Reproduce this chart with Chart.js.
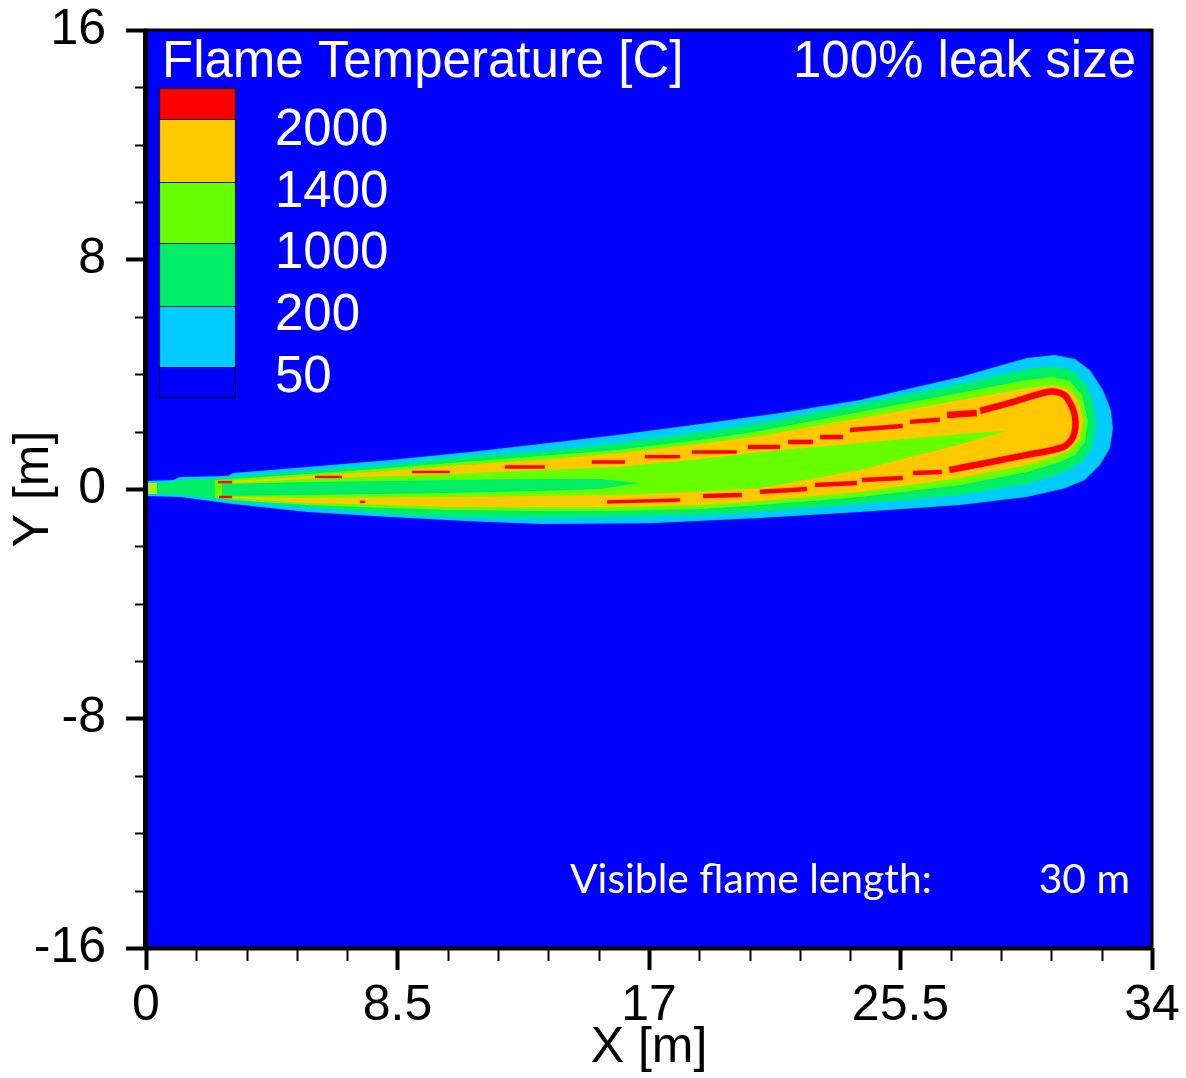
<!DOCTYPE html>
<html><head><meta charset="utf-8">
<script src="https://cdn.jsdelivr.net/npm/chart.js@4.4.1/dist/chart.umd.min.js"></script>
<style>html,body{margin:0;padding:0;background:#fff;}canvas{display:block;}</style>
</head><body>
<canvas id="c" width="1186" height="1078"></canvas>
<script>
// ---- axes / legend ----
const xTicks = [0, 8.5, 17, 25.5, 34];
const yTicks = [-16, -8, 0, 8, 16];
const xMinorStep = 1.7;
const yMinorStep = 2;
const legendTitle = 'Flame Temperature [C]';
const caseLabel = '100% leak size';
const levelLabels = ['2000', '1400', '1000', '200', '50'];
const levelColors = ['#FF0000', '#FFC800', '#66FF00', '#00EE66', '#00CCFF', '#0000FF'];
const noteLabel = 'Visible flame length:';
const noteValue = '30 m';

// ---- contour bands (x [m], y [m]) ----
const cyanX = [0,0.91,1.15,2.77,2.94,5.44,8.25,10.95,13.32,15.92,18.72,21.43,24.13,27.51,29.77,30.72,31.40,31.90,32.34,32.61,32.68,32.58,32.24,31.73,31.06,29.77,27.51,24.13,20.75,17.03,13.32,10.95,8.25,5.44,2.94,1.15,0];
const cyanY = [0.28,0.31,0.42,0.45,0.56,0.77,1.01,1.29,1.57,1.88,2.27,2.65,3.10,3.90,4.57,4.67,4.53,4.15,3.45,2.75,2.13,1.43,0.84,0.31,0.03,-0.28,-0.56,-0.80,-1.01,-1.19,-1.22,-1.12,-0.98,-0.80,-0.52,-0.28,-0.24];

const greenX = [0,0.91,1.15,2.94,5.44,8.25,10.27,13.32,15.92,18.72,20.75,24.13,27.51,29.77,30.65,31.29,31.80,32.04,32.11,31.97,31.63,31.06,29.77,27.51,24.13,20.75,18.72,15.92,13.32,10.27,8.25,5.44,2.94,1.15,0];
const greenY = [0.21,0.24,0.31,0.42,0.63,0.84,1.08,1.32,1.60,1.99,2.30,2.96,3.66,4.18,4.29,4.15,3.62,2.93,2.23,1.43,0.94,0.59,0.17,-0.21,-0.52,-0.80,-0.91,-0.98,-1.01,-0.98,-0.87,-0.63,-0.42,-0.21,-0.17];

const limeX = [2.33,2.94,5.44,8.25,10.27,13.32,15.92,18.72,20.75,24.13,27.51,29.77,30.65,31.23,31.63,31.83,31.73,31.40,30.89,29.77,27.51,24.13,20.75,18.72,15.92,13.32,10.27,8.25,5.44,2.94,2.33];
const limeY = [0.31,0.35,0.52,0.73,0.91,1.15,1.36,1.71,2.02,2.68,3.35,3.80,3.90,3.76,3.28,2.41,1.64,1.19,0.94,0.59,0.14,-0.28,-0.56,-0.70,-0.77,-0.77,-0.73,-0.66,-0.56,-0.38,-0.31];

const orangeX = [2.57,2.94,5.44,8.25,10.27,13.32,15.92,18.72,20.75,24.13,27.51,29.77,30.65,31.16,31.50,31.67,31.56,31.23,30.89,29.77,27.51,24.13,20.75,18.72,15.92,13.32,10.27,8.25,5.44,2.94,2.57];
const orangeY = [0.24,0.28,0.45,0.63,0.80,1.01,1.25,1.57,1.85,2.47,3.10,3.52,3.62,3.49,3.10,2.41,1.78,1.36,1.19,0.84,0.38,-0.10,-0.42,-0.56,-0.63,-0.63,-0.63,-0.56,-0.49,-0.31,-0.28];

const coreLimeX = [2.57,2.94,5.44,10.27,15.92,18.72,20.75,24.13,27.51,29.10,27.51,24.13,20.75,18.72,15.92,10.27,5.44,2.94,2.57];
const coreLimeY = [0.21,0.21,0.35,0.52,0.77,1.05,1.29,1.60,1.92,2.03,1.55,0.66,0.03,-0.10,-0.21,-0.28,-0.31,-0.28,-0.28];

const coreGreenX = [2.57,5.44,10.27,13.32,15.34,16.69,15.34,13.32,10.27,5.44,2.57];
const coreGreenY = [0.17,0.24,0.31,0.35,0.35,0.21,0,-0.07,-0.14,-0.21,-0.24];

const nozzleX = [0,0.37,0.37,0];
const nozzleY = [0.21,0.21,-0.17,-0.17];

// 2000 C contour (broken where it disappears)
const redX = [2.43,2.91,null,5.71,6.62,null,8.99,10.27,null,12.13,13.48,null,15.07,16.19,null,16.86,18.05,null,18.45,19.97,null,20.34,21.43,null,21.70,22.54,null,22.78,23.56,null,23.79,25.58,null,25.82,26.83,null,27.07,28.08,null,28.19,29.20,30.45,30.89,31.13,31.40,31.33,30.99,29.77,27.51,27.15,null,26.90,25.92,null,25.58,24.20,null,24.03,22.61,null,22.34,20.75,null,20.14,18.82,null,18.05,15.58,null,7.40,7.23,null,2.91,2.47];
const redY = [0.24,0.24,null,0.42,0.42,null,0.59,0.59,null,0.77,0.77,null,0.94,0.94,null,1.12,1.12,null,1.29,1.29,null,1.46,1.46,null,1.64,1.64,null,1.81,1.81,null,2.06,2.20,null,2.34,2.41,null,2.58,2.65,null,2.72,3.00,3.38,3.35,3.17,2.51,1.81,1.46,1.19,0.73,0.66,null,0.59,0.56,null,0.38,0.31,null,0.21,0.14,null,0.00,-0.10,null,-0.21,-0.24,null,-0.38,-0.45,null,-0.45,-0.45,null,-0.28,-0.28];

// ---- build datasets ----
function pts(xs, ys, close) {
  const p = xs.map((x, i) => ({ x: x, y: ys[i] }));
  if (close) p.push({ x: xs[0], y: ys[0] });
  return p;
}
function band(xs, ys, color, order) {
  return { data: pts(xs, ys, true), showLine: true, fill: 'shape', backgroundColor: color,
           borderWidth: 0, pointRadius: 0, tension: 0, order: order };
}
const datasets = [
  band(cyanX, cyanY, levelColors[4], 20),
  band(greenX, greenY, levelColors[3], 19),
  band(limeX, limeY, levelColors[2], 18),
  band(orangeX, orangeY, levelColors[1], 17),
  band(coreLimeX, coreLimeY, levelColors[2], 16),
  band(coreGreenX, coreGreenY, levelColors[3], 15),
  band(nozzleX, nozzleY, '#AEF21A', 14),
  { data: pts(redX, redY, false), showLine: true, fill: false, borderColor: levelColors[0],
    borderWidth: 4, pointRadius: 0, tension: 0.3, spanGaps: false, order: 1,
    segment: { borderWidth: c => { const x = c.p0.parsed.x; return x < 12 ? 2.5 : x < 20 ? 3.5 : x < 27 ? 4.5 : 6.5; } } }
];

const FONT = '"Liberation Sans", Arial, sans-serif';

const bgPlugin = {
  id: 'bg',
  beforeDraw(chart) {
    const { ctx, chartArea: a } = chart;
    ctx.save();
    ctx.fillStyle = '#fff';
    ctx.fillRect(0, 0, chart.width, chart.height);
    ctx.fillStyle = levelColors[5];
    ctx.fillRect(a.left, a.top, a.right - a.left, a.bottom - a.top);
    ctx.restore();
  }
};

const overlayPlugin = {
  id: 'overlay',
  afterDraw(chart) {
    const { ctx, chartArea: a, scales: { x, y } } = chart;
    ctx.save();
    // legend swatches
    const sx = 159, sw = 77;
    const edges = [88, 119, 182, 243, 306, 367, 398];
    for (let i = 0; i < 6; i++) {
      ctx.fillStyle = levelColors[i];
      ctx.fillRect(sx, edges[i], sw, edges[i + 1] - edges[i]);
    }
    ctx.strokeStyle = 'rgba(15,15,30,0.9)';
    ctx.lineWidth = 1.2;
    for (let i = 1; i < 6; i++) {
      ctx.beginPath(); ctx.moveTo(sx, edges[i] + 0.5); ctx.lineTo(sx + sw, edges[i] + 0.5); ctx.stroke();
    }
    ctx.strokeRect(sx + 0.5, edges[0] + 0.5, sw - 1, edges[6] - edges[0] - 1);
    // texts
    ctx.fillStyle = '#fff';
    ctx.textBaseline = 'alphabetic';
    ctx.font = '51px ' + FONT;
    ctx.textAlign = 'left';
    ctx.fillText(legendTitle, 162, 77);
    ctx.textAlign = 'right';
    ctx.fillText(caseLabel, 1136, 77);
    ctx.textAlign = 'left';
    const base = [145, 207, 268, 330, 392];
    levelLabels.forEach((t, i) => ctx.fillText(t, 275, base[i]));
    // note
    let fs = 40;
    ctx.font = fs + 'px Lato, "Noto Sans", sans-serif';
    const w = ctx.measureText(noteLabel).width;
    fs = fs * 362 / w;
    ctx.font = fs.toFixed(1) + 'px Lato, "Noto Sans", sans-serif';
    ctx.fillText(noteLabel, 570, 893);
    ctx.textAlign = 'right';
    ctx.fillText(noteValue, 1130, 893);
    // minor ticks
    ctx.strokeStyle = '#000';
    ctx.lineWidth = 2;
    const nx = Math.round(34 / xMinorStep);
    for (let i = 0; i <= nx; i++) {
      if (i % 5 === 0) continue;
      const px = Math.round(x.getPixelForValue(i * xMinorStep)) + 0.5;
      ctx.beginPath(); ctx.moveTo(px, a.bottom); ctx.lineTo(px, a.bottom + 13); ctx.stroke();
    }
    for (let v = -16; v <= 16; v += yMinorStep) {
      if (v % 8 === 0) continue;
      const py = Math.round(y.getPixelForValue(v)) + 0.5;
      ctx.beginPath(); ctx.moveTo(a.left, py); ctx.lineTo(a.left - 11, py); ctx.stroke();
    }
    // frame
    ctx.lineWidth = 3;
    ctx.strokeRect(a.left, a.top, a.right - a.left, a.bottom - a.top);
    ctx.lineWidth = 5;
    ctx.beginPath(); ctx.moveTo(a.left - 0.5, a.top - 1); ctx.lineTo(a.left - 0.5, a.bottom + 2); ctx.stroke();
    ctx.lineWidth = 4;
    ctx.beginPath(); ctx.moveTo(a.left - 2, a.bottom + 0.5); ctx.lineTo(a.right + 1, a.bottom + 0.5); ctx.stroke();
    ctx.restore();
  }
};

new Chart(document.getElementById('c'), {
  type: 'scatter',
  data: { datasets: datasets },
  options: {
    responsive: false, animation: false, devicePixelRatio: 1,
    layout: { padding: { top: 30, right: 34, left: 0, bottom: 0 } },
    plugins: { legend: { display: false }, tooltip: { enabled: false } },
    scales: {
      x: {
        type: 'linear', min: 0, max: 34,
        afterBuildTicks: s => { s.ticks = xTicks.map(v => ({ value: v })); },
        afterFit: s => { s.height = 130; s.paddingLeft = 0; s.paddingRight = 0; },
        ticks: { font: { family: FONT, size: 50 }, color: '#000', padding: 6, maxRotation: 0, autoSkip: false,
                 callback: v => String(v) },
        grid: { drawOnChartArea: false, drawTicks: true, tickLength: 22, tickWidth: 4, tickColor: '#000' },
        border: { display: false },
        title: { display: true, text: 'X [m]', font: { family: FONT, size: 50 }, color: '#000', padding: { top: -6, bottom: 0 } }
      },
      y: {
        type: 'linear', min: -16, max: 16,
        afterBuildTicks: s => { s.ticks = yTicks.map(v => ({ value: v })); },
        afterFit: s => { s.width = 146; s.paddingTop = 0; s.paddingBottom = 0; },
        ticks: { font: { family: FONT, size: 50 }, color: '#000', padding: 20, autoSkip: false,
                 callback: v => String(v) },
        grid: { drawOnChartArea: false, drawTicks: true, tickLength: 20, tickWidth: 4, tickColor: '#000' },
        border: { display: false },
        title: { display: true, text: 'Y [m]', font: { family: FONT, size: 50 }, color: '#000', padding: { top: 4, bottom: 0 } }
      }
    }
  },
  plugins: [bgPlugin, overlayPlugin]
});
</script>
</body></html>
